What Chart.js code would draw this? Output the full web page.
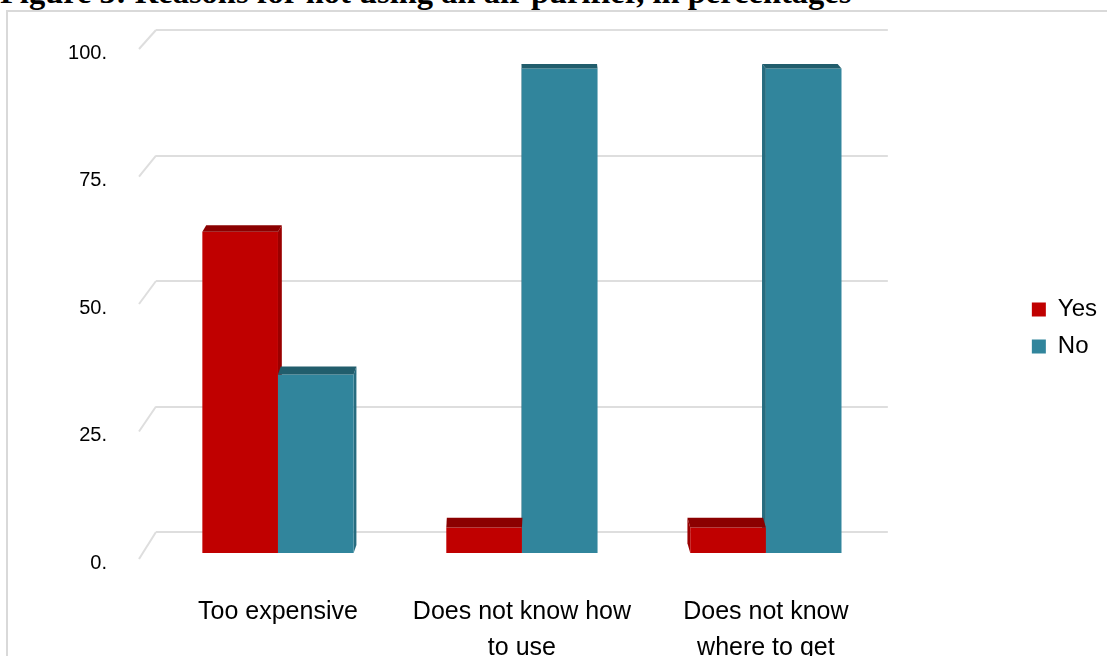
<!DOCTYPE html>
<html>
<head>
<meta charset="utf-8">
<script src="https://cdn.jsdelivr.net/npm/chart.js@4/dist/chart.umd.min.js"></script>
<style>
  html, body { margin: 0; padding: 0; background: #fff; overflow: hidden; }
  #title {
    position: absolute; left: 0; top: -24px; white-space: nowrap;
    font: bold 32.5px/1 "Liberation Serif", "Times New Roman", serif; color: #000;
  }
  #frame {
    position: absolute; left: 6px; top: 10px; width: 1140px; height: 700px;
    border: 2px solid #d9d9d9; background: #fff;
  }
  #chart { display: block; }
</style>
</head>
<body>
<div id="title">Figure 3: Reasons for not using an air purifier, in percentages</div>
<div id="frame"><canvas id="chart" width="1099" height="644"></canvas></div>
<script>
// ---- data ----
const CATEGORIES = [['Too expensive'], ['Does not know how', 'to use'], ['Does not know', 'where to get']];
const YES_VALUES = [63, 5, 5];
const NO_VALUES  = [35, 95, 95];
const Y_TICKS    = [0, 25, 50, 75, 100];

const RED  = { front: '#C00000', top: '#8B0000', side: '#9A0000' };
const TEAL = { front: '#31859C', top: '#215D6C', side: '#276C7F' };
const GRID = '#dedede';

// fake 3D: side faces under the bars, top faces over them
const bars3d = {
  id: 'bars3d',
  beforeDatasetsDraw(chart) { drawFaces(chart, 'side'); },
  afterDatasetsDraw(chart)  { drawFaces(chart, 'top'); }
};

function drawFaces(chart, which) {
  const ctx  = chart.ctx;
  const area = chart.chartArea;
  const midX = (area.left + area.right) / 2;
  const cols = [RED, TEAL];
  chart.data.datasets.forEach(function (ds, di) {
    chart.getDatasetMeta(di).data.forEach(function (bar) {
      const x0 = bar.x - bar.width / 2, x1 = bar.x + bar.width / 2;
      const sx = (midX - bar.x) / (area.right - area.left) * 10;
      const d  = 4 + 6 * (bar.y - area.top) / (area.bottom - area.top);
      ctx.save();
      ctx.beginPath();
      if (which === 'top') {
        ctx.fillStyle = cols[di].top;
        ctx.moveTo(x0, bar.y);
        ctx.lineTo(x0 + sx, bar.y - d);
        ctx.lineTo(x1 + sx, bar.y - d);
        ctx.lineTo(x1, bar.y);
      } else {
        ctx.fillStyle = cols[di].side;
        const xe = sx > 0 ? x1 : x0;
        ctx.moveTo(xe, bar.y);
        ctx.lineTo(xe + sx, bar.y - d);
        ctx.lineTo(xe + sx, bar.base - d);
        ctx.lineTo(xe, bar.base);
      }
      ctx.closePath();
      ctx.fill();
      ctx.restore();
    });
  });
}

// short slanted ends on the left of the grid lines
const gridEnds = {
  id: 'gridEnds',
  beforeDatasetsDraw(chart) {
    const ctx = chart.ctx;
    const back = chart.scales.yBack, front = chart.scales.y;
    const left = chart.chartArea.left;
    ctx.save();
    ctx.strokeStyle = GRID;
    ctx.lineWidth = 2;
    Y_TICKS.forEach(function (v) {
      ctx.beginPath();
      ctx.moveTo(left, back.getPixelForValue(v));
      ctx.lineTo(left - 17, front.getPixelForValue(v) + 6);
      ctx.stroke();
    });
    ctx.restore();
  }
};

new Chart(document.getElementById('chart'), {
  type: 'bar',
  data: {
    labels: CATEGORIES,
    datasets: [
      { label: 'Yes', data: YES_VALUES, backgroundColor: RED.front },
      { label: 'No',  data: NO_VALUES,  backgroundColor: TEAL.front }
    ]
  },
  options: {
    responsive: false,
    animation: false,
    layout: { padding: { top: -12, left: 0, right: 0, bottom: 0 } },
    datasets: { bar: { barPercentage: 1, categoryPercentage: 0.62 } },
    plugins: {
      legend: {
        position: 'right',
        align: 'center',
        labels: {
          boxWidth: 14, boxHeight: 14, padding: 13, color: '#000',
          font: { family: 'Liberation Sans', size: 24 }
        }
      },
      tooltip: { enabled: false }
    },
    scales: {
      x: {
        grid: { display: false },
        border: { display: false },
        ticks: {
          color: '#000', padding: 33, maxRotation: 0, autoSkip: false,
          font: { family: 'Liberation Sans', size: 25, lineHeight: 1.45 }
        },
        afterFit: function (s) { s.height = 103; }
      },
      y: {
        position: 'left',
        weight: 1,
        min: 0, max: 103.73,
        grid: { display: false },
        border: { display: false },
        afterBuildTicks: function (s) { s.ticks = Y_TICKS.map(function (v) { return { value: v }; }); },
        ticks: {
          color: '#000', padding: 0, labelOffset: 10,
          font: { family: 'Liberation Sans', size: 20 },
          callback: function (v) { return v + '.'; }
        },
        afterFit: function (s) { s.width = 107; }
      },
      yBack: {
        position: 'left',
        weight: 0,
        min: -4.18, max: 101.2,
        grid: { color: GRID, lineWidth: 2, drawTicks: false },
        border: { display: false },
        afterBuildTicks: function (s) { s.ticks = Y_TICKS.map(function (v) { return { value: v }; }); },
        ticks: { display: false },
        afterFit: function (s) { s.width = 41; }
      },
      yPad: {
        position: 'right',
        grid: { display: false },
        border: { display: false },
        ticks: { display: false },
        afterFit: function (s) { s.width = 131; }
      }
    }
  },
  plugins: [bars3d, gridEnds]
});
</script>
</body>
</html>
